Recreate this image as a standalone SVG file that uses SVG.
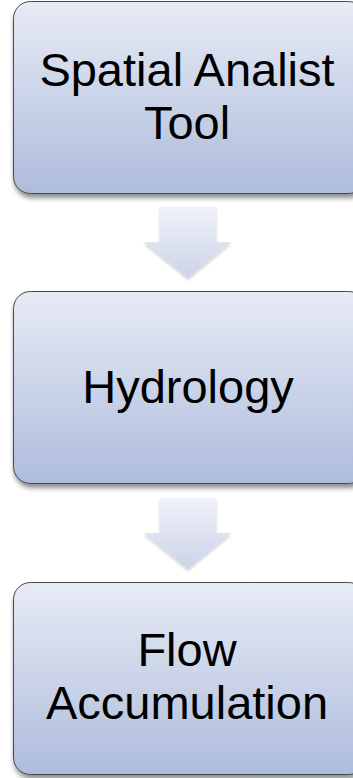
<svg xmlns="http://www.w3.org/2000/svg" width="353" height="778" viewBox="0 0 353 778">
<defs>
<linearGradient id="boxg" x1="0" y1="0" x2="0" y2="1">
<stop offset="0" stop-color="#e7ebf5"/>
<stop offset="1" stop-color="#aebcdc"/>
</linearGradient>
<linearGradient id="arrg" x1="0" y1="0" x2="0" y2="1">
<stop offset="0" stop-color="#f0f2f9"/>
<stop offset="1" stop-color="#cbd3e8"/>
</linearGradient>
<filter id="sh" x="-10%" y="-10%" width="120%" height="130%">
<feGaussianBlur in="SourceAlpha" stdDeviation="2.5"/>
<feOffset dx="1" dy="4" result="b"/>
<feComponentTransfer><feFuncA type="linear" slope="0.45"/></feComponentTransfer>
<feMerge><feMergeNode/><feMergeNode in="SourceGraphic"/></feMerge>
</filter>
<filter id="ash" x="-20%" y="-20%" width="140%" height="140%">
<feGaussianBlur in="SourceAlpha" stdDeviation="1.5"/>
<feOffset dx="0" dy="2" result="b"/>
<feComponentTransfer><feFuncA type="linear" slope="0.2"/></feComponentTransfer>
<feMerge><feMergeNode/><feMergeNode in="SourceGraphic"/></feMerge>
</filter>
</defs>
<style>
.box{fill:url(#boxg);stroke:#4a4a4a;stroke-width:1;filter:url(#sh)}
.lbl{font-family:"Liberation Sans",Arial,sans-serif;font-size:47px;fill:#000;text-anchor:middle}
.arr{fill:url(#arrg);filter:url(#ash)}
</style>
<g id="connectors">
<path class="arr" d="M160,207 H216 V242 H231 L188,278 L144,242 H160 Z"/>
<path class="arr" d="M160,498 H216 V533 H231 L188,569 L144,533 H160 Z"/>
</g>
<g id="node1">
<rect class="box" x="13.5" y="1.5" width="352" height="192" rx="17"/>
<text class="lbl" x="187" y="86">Spatial Analist</text>
<text class="lbl" x="187" y="139">Tool</text>
</g>
<g id="node2">
<rect class="box" x="13.5" y="291.5" width="352" height="192" rx="17"/>
<text class="lbl" x="188" y="403">Hydrology</text>
</g>
<g id="node3">
<rect class="box" x="13.5" y="582.5" width="352" height="192" rx="17"/>
<text class="lbl" x="187" y="666">Flow</text>
<text class="lbl" x="187" y="719">Accumulation</text>
</g>
</svg>
